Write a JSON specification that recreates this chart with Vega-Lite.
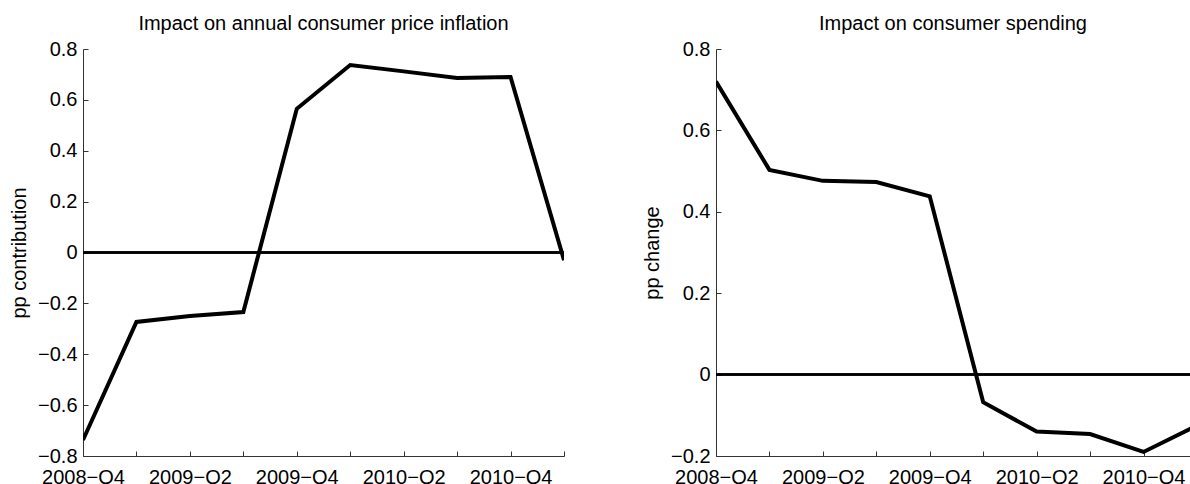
{
  "$schema": "https://vega.github.io/schema/vega-lite/v6.json",
  "autosize": {"type": "pad"},
  "padding": {"left": 9, "top": 14, "right": 0, "bottom": 0},
  "spacing": 152,
  "bounds": "flush",
  "background": "white",
  "datasets": {
    "cpi": [
      {"i": 0, "quarter": "2008−Q4", "value": -0.737},
      {"i": 1, "quarter": "2009−Q1", "value": -0.273},
      {"i": 2, "quarter": "2009−Q2", "value": -0.25},
      {"i": 3, "quarter": "2009−Q3", "value": -0.234},
      {"i": 4, "quarter": "2009−Q4", "value": 0.565},
      {"i": 5, "quarter": "2010−Q1", "value": 0.737},
      {"i": 6, "quarter": "2010−Q2", "value": 0.712},
      {"i": 7, "quarter": "2010−Q3", "value": 0.686},
      {"i": 8, "quarter": "2010−Q4", "value": 0.69},
      {"i": 9, "quarter": "2011−Q1", "value": -0.03}
    ],
    "spend": [
      {"i": 0, "quarter": "2008−Q4", "value": 0.72},
      {"i": 1, "quarter": "2009−Q1", "value": 0.503},
      {"i": 2, "quarter": "2009−Q2", "value": 0.476},
      {"i": 3, "quarter": "2009−Q3", "value": 0.473},
      {"i": 4, "quarter": "2009−Q4", "value": 0.438},
      {"i": 5, "quarter": "2010−Q1", "value": -0.068},
      {"i": 6, "quarter": "2010−Q2", "value": -0.14},
      {"i": 7, "quarter": "2010−Q3", "value": -0.146},
      {"i": 8, "quarter": "2010−Q4", "value": -0.19},
      {"i": 9, "quarter": "2011−Q1", "value": -0.125}
    ]
  },
  "config": {
    "view": {"stroke": null},
    "font": "Liberation Sans",
    "axis": {
      "grid": false,
      "domainColor": "#333",
      "domainWidth": 1,
      "tickColor": "#333",
      "tickWidth": 1,
      "tickSize": -5,
      "labelFont": "Liberation Sans",
      "labelFontSize": 20,
      "labelColor": "#000",
      "labelOverlap": false,
      "labelFlush": false,
      "titleFont": "Liberation Sans",
      "titleFontSize": 20,
      "titleFontWeight": "normal",
      "titleColor": "#000"
    },
    "title": {
      "font": "Liberation Sans",
      "fontSize": 20,
      "fontWeight": "normal",
      "color": "#000",
      "anchor": "middle",
      "frame": "group",
      "baseline": "alphabetic",
      "offset": 5
    }
  },
  "hconcat": [
    {
      "width": 481,
      "height": 407,
      "title": "Impact on annual consumer price inflation",
      "data": {"name": "cpi"},
      "layer": [
        {
          "mark": {"type": "rule", "color": "black", "strokeWidth": 1.5},
          "encoding": {"y": {"datum": 0, "type": "quantitative"}}
        },
        {
          "mark": {"type": "line", "color": "black", "strokeWidth": 4, "clip": true},
          "encoding": {
            "x": {
              "field": "i", "type": "quantitative",
              "scale": {"domain": [0, 9], "nice": false, "zero": false},
              "axis": {
                "title": null,
                "values": [0, 1, 2, 3, 4, 5, 6, 7, 8, 9],
                "labelPadding": 16,
                "labelExpr": "datum.value % 2 == 0 ? ['2008−Q4','2009−Q1','2009−Q2','2009−Q3','2009−Q4','2010−Q1','2010−Q2','2010−Q3','2010−Q4','2011−Q1'][datum.value] : ''"
              }
            },
            "y": {
              "field": "value", "type": "quantitative",
              "scale": {"domain": [-0.8, 0.8], "nice": false},
              "axis": {
                "title": "pp contribution",
                "values": [-0.8, -0.6, -0.4, -0.2, 0, 0.2, 0.4, 0.6, 0.8],
                "format": ".1~f",
                "labelPadding": 11,
                "titleX": -64,
                "titleY": 203.5,
                "titleAngle": -90,
                "titleAlign": "center",
                "titleBaseline": "middle"
              }
            }
          }
        }
      ]
    },
    {
      "width": 474,
      "height": 407,
      "title": "Impact on consumer spending",
      "data": {"name": "spend"},
      "layer": [
        {
          "mark": {"type": "rule", "color": "black", "strokeWidth": 1.5},
          "encoding": {"y": {"datum": 0, "type": "quantitative"}}
        },
        {
          "mark": {"type": "line", "color": "black", "strokeWidth": 4, "clip": true},
          "encoding": {
            "x": {
              "field": "i", "type": "quantitative",
              "scale": {"domain": [0, 8.87], "nice": false, "zero": false},
              "axis": {
                "title": null,
                "values": [0, 1, 2, 3, 4, 5, 6, 7, 8],
                "labelPadding": 16,
                "labelExpr": "datum.value % 2 == 0 ? ['2008−Q4','2009−Q1','2009−Q2','2009−Q3','2009−Q4','2010−Q1','2010−Q2','2010−Q3','2010−Q4','2011−Q1'][datum.value] : ''"
              }
            },
            "y": {
              "field": "value", "type": "quantitative",
              "scale": {"domain": [-0.2, 0.8], "nice": false},
              "axis": {
                "title": "pp change",
                "values": [-0.2, 0, 0.2, 0.4, 0.6, 0.8],
                "format": ".1~f",
                "labelPadding": 11,
                "titleX": -64,
                "titleY": 203.5,
                "titleAngle": -90,
                "titleAlign": "center",
                "titleBaseline": "middle"
              }
            }
          }
        }
      ]
    }
  ]
}
